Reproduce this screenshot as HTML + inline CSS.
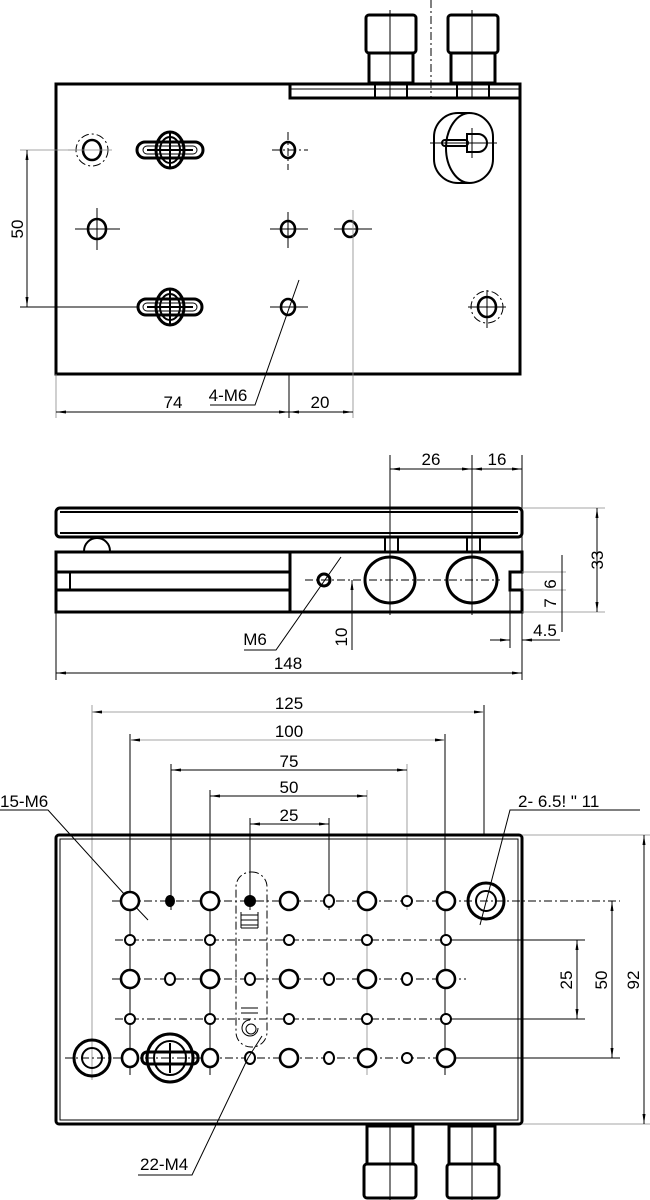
<!DOCTYPE html>
<html><head><meta charset="utf-8"><style>
html,body{margin:0;padding:0;background:#fff}
svg{display:block}
text{font-family:"Liberation Sans Narrow","Liberation Sans",sans-serif;font-size:17px;fill:#000}
.t{stroke:#000;stroke-width:1;fill:none}
.g{stroke:#888;stroke-width:0.8;fill:none}
.k{stroke:#000;stroke-width:3;fill:none}
.m{stroke:#000;stroke-width:2;fill:none}
.d{stroke:#000;stroke-width:1;fill:none;stroke-dasharray:8 3 2 3}
.big{stroke:#000;stroke-width:2.6;fill:#fff}
.sm{stroke:#000;stroke-width:2;fill:#fff}
</style></head><body>
<svg width="650" height="1200" viewBox="0 0 650 1200" xmlns="http://www.w3.org/2000/svg">
<defs>
<marker id="a" markerWidth="10" markerHeight="6" refX="10" refY="3" orient="auto-start-reverse" markerUnits="userSpaceOnUse"><path d="M0,1.5 L10,3 L0,4.5z" fill="#000"/></marker>
</defs>

<!-- ===== TOP VIEW ===== -->
<line class="d" x1="431" y1="0" x2="431" y2="98"/>
<!-- fittings -->
<rect class="k" x="366" y="15" width="50" height="38" rx="3"/>
<rect class="k" x="369" y="53" width="44" height="30"/>
<rect class="m" x="375" y="84" width="32" height="14"/>
<line class="t" x1="390" y1="10" x2="390" y2="98"/>
<rect class="k" x="448" y="15" width="50" height="38" rx="3"/>
<rect class="k" x="451" y="53" width="44" height="30"/>
<rect class="m" x="457" y="84" width="32" height="14"/>
<line class="t" x1="472" y1="10" x2="472" y2="98"/>
<!-- body -->
<path class="k" d="M56,84 H520 V374 H56 Z"/>
<path class="k" d="M290,84 V98 H520"/>
<line class="t" x1="290" y1="89" x2="520" y2="89"/>
<!-- oval at top right -->
<rect class="m" x="434" y="113" width="59" height="70" rx="24"/>
<path class="m" d="M470,113 A24,35 0 0 0 470,183"/>
<rect class="m" x="442" y="140" width="26" height="6" rx="3"/>
<path class="m" d="M467,134 H478 A9,9 0 0 1 478,152 H467 Z" fill="#fff"/>
<line class="t" x1="430" y1="143" x2="497" y2="143"/>
<line class="t" x1="472" y1="128" x2="472" y2="158"/>
<!-- holes row1 -->
<ellipse class="d" cx="92" cy="150" rx="16" ry="16"/>
<ellipse class="big" cx="92" cy="150" rx="9" ry="10"/>
<line class="g" x1="68" y1="150" x2="112" y2="150"/>
<ellipse class="big" cx="288" cy="150" rx="7" ry="8"/>
<line class="d" x1="272" y1="150" x2="308" y2="150"/>
<line class="d" x1="288" y1="132" x2="288" y2="170"/>
<!-- slot 1 -->
<ellipse class="k" cx="170" cy="150" rx="14" ry="18"/>
<rect class="k" x="137" y="142" width="66" height="16" rx="8" fill="#fff"/>
<rect class="t" x="143" y="146" width="54" height="8" rx="4"/>
<ellipse class="m" cx="170" cy="150" rx="10" ry="13"/>
<line class="m" x1="170" y1="133" x2="170" y2="167"/>
<line class="m" x1="147" y1="150" x2="193" y2="150"/>
<!-- row2 -->
<ellipse class="big" cx="97" cy="229" rx="9" ry="10"/>
<line class="t" x1="75" y1="229" x2="120" y2="229"/><line class="t" x1="97" y1="208" x2="97" y2="250"/>
<ellipse class="big" cx="288" cy="229" rx="7" ry="8"/>
<line class="t" x1="270" y1="229" x2="308" y2="229"/><line class="t" x1="288" y1="212" x2="288" y2="248"/>
<ellipse class="big" cx="350" cy="229" rx="7" ry="8"/>
<line class="t" x1="334" y1="229" x2="372" y2="229"/>
<line class="g" x1="353" y1="210" x2="353" y2="418"/>
<!-- row3 -->
<ellipse class="k" cx="170" cy="307" rx="14" ry="18"/>
<rect class="k" x="138" y="299" width="64" height="16" rx="8" fill="#fff"/>
<rect class="t" x="143" y="303" width="54" height="8" rx="4"/>
<ellipse class="m" cx="170" cy="307" rx="10" ry="13"/>
<line class="m" x1="170" y1="290" x2="170" y2="324"/>
<line class="m" x1="147" y1="307" x2="193" y2="307"/>
<ellipse class="big" cx="288" cy="307" rx="7" ry="8"/>
<line class="t" x1="270" y1="307" x2="308" y2="307"/>
<ellipse class="d" cx="487" cy="307" rx="16" ry="16"/>
<ellipse class="big" cx="487" cy="307" rx="9" ry="10"/>
<line class="t" x1="468" y1="307" x2="506" y2="307"/><line class="t" x1="487" y1="290" x2="487" y2="328"/>
<!-- dims top -->
<line class="g" x1="20" y1="150" x2="75" y2="150"/>
<line class="t" x1="20" y1="307" x2="138" y2="307"/>
<line class="t" x1="27" y1="150" x2="27" y2="307" marker-start="url(#a)" marker-end="url(#a)"/>
<text transform="translate(23,229) rotate(-90)" text-anchor="middle">50</text>
<line class="g" x1="56" y1="374" x2="56" y2="418"/>
<line class="t" x1="289" y1="374" x2="289" y2="418"/>
<line class="t" x1="56" y1="412" x2="289" y2="412" marker-start="url(#a)" marker-end="url(#a)"/>
<line class="t" x1="289" y1="412" x2="353" y2="412" marker-start="url(#a)" marker-end="url(#a)"/>
<text x="173" y="408" text-anchor="middle">74</text>
<text x="320" y="408" text-anchor="middle">20</text>
<path class="t" d="M299,280 L255,405 H210"/>
<text x="228" y="401" text-anchor="middle">4-M6</text>

<!-- ===== SIDE VIEW ===== -->
<line class="t" x1="390" y1="455" x2="390" y2="615"/>
<line class="t" x1="472" y1="455" x2="472" y2="615"/>
<line class="t" x1="522" y1="455" x2="522" y2="680"/>
<line class="t" x1="390" y1="469" x2="472" y2="469" marker-start="url(#a)" marker-end="url(#a)"/>
<line class="t" x1="472" y1="469" x2="522" y2="469" marker-start="url(#a)" marker-end="url(#a)"/>
<text x="431" y="465" text-anchor="middle">26</text>
<text x="497" y="465" text-anchor="middle">16</text>
<rect class="k" x="56" y="508" width="466" height="29" rx="4"/>
<line class="m" x1="60" y1="512" x2="518" y2="512"/>
<line class="m" x1="60" y1="533" x2="518" y2="533"/>
<path class="m" d="M84,551 A13,13 0 0 1 110,551"/>
<rect class="m" x="385" y="537" width="13" height="15"/>
<rect class="m" x="467" y="537" width="13" height="15"/>
<path class="k" d="M56,552 H522 V572 H510 V590 H522 V612 H56 Z"/>
<line class="k" x1="56" y1="572" x2="290" y2="572"/>
<line class="k" x1="56" y1="590" x2="290" y2="590"/>
<line class="m" x1="70" y1="572" x2="70" y2="590"/>
<line class="k" x1="290" y1="552" x2="290" y2="612"/>
<line class="d" x1="305" y1="580" x2="500" y2="580"/>
<circle class="k" cx="324" cy="580" r="6"/>
<ellipse class="k" cx="390" cy="580" rx="25" ry="23"/>
<ellipse class="k" cx="472" cy="580" rx="25" ry="23"/>
<line class="d" x1="390" y1="555" x2="390" y2="615"/>
<line class="d" x1="472" y1="555" x2="472" y2="615"/>
<line class="g" x1="522" y1="508" x2="605" y2="508"/>
<line class="g" x1="522" y1="612" x2="605" y2="612"/>
<line class="t" x1="597" y1="508" x2="597" y2="612" marker-start="url(#a)" marker-end="url(#a)"/>
<text transform="translate(603,560) rotate(-90)" text-anchor="middle">33</text>
<line class="g" x1="522" y1="572" x2="566" y2="572"/>
<line class="g" x1="522" y1="590" x2="566" y2="590"/>
<line class="t" x1="562" y1="555" x2="562" y2="632"/>
<text transform="translate(556,584) rotate(-90)" text-anchor="middle">6</text>
<text transform="translate(556,603) rotate(-90)" text-anchor="middle">7</text>
<line class="t" x1="510" y1="590" x2="510" y2="648"/>
<line class="t" x1="490" y1="640" x2="510" y2="640" marker-end="url(#a)"/>
<line class="t" x1="560" y1="640" x2="522" y2="640" marker-end="url(#a)"/>
<text x="545" y="636" text-anchor="middle">4.5</text>
<line class="t" x1="352" y1="580" x2="352" y2="650"/>
<line class="t" x1="352" y1="600" x2="352" y2="580" marker-end="url(#a)"/>
<text transform="translate(347,637) rotate(-90)" text-anchor="middle">10</text>
<path class="t" d="M341,557 L276,650 H244"/>
<text x="255" y="645" text-anchor="middle">M6</text>
<line class="t" x1="56" y1="612" x2="56" y2="680"/>
<line class="t" x1="56" y1="673" x2="522" y2="673" marker-start="url(#a)" marker-end="url(#a)"/>
<text x="288" y="669" text-anchor="middle">148</text>

<!-- ===== BOTTOM VIEW ===== -->
<!-- extension lines -->
<line class="g" x1="92" y1="705" x2="92" y2="1080"/>
<line class="t" x1="484" y1="705" x2="484" y2="835"/>
<line class="t" x1="130" y1="734" x2="130" y2="1075"/>
<line class="t" x1="445" y1="734" x2="445" y2="1075"/>
<line class="t" x1="171" y1="764" x2="171" y2="910"/>
<line class="g" x1="407" y1="764" x2="407" y2="910"/>
<line class="t" x1="210" y1="790" x2="210" y2="1075"/>
<line class="g" x1="367" y1="790" x2="367" y2="1075"/>
<line class="t" x1="250" y1="818" x2="250" y2="910"/>
<line class="t" x1="329" y1="818" x2="329" y2="910"/>
<line class="g" x1="92" y1="712" x2="484" y2="712" marker-start="url(#a)" marker-end="url(#a)"/>
<line class="g" x1="130" y1="740" x2="445" y2="740" marker-start="url(#a)" marker-end="url(#a)"/>
<line class="t" x1="171" y1="770" x2="407" y2="770" marker-start="url(#a)" marker-end="url(#a)"/>
<line class="t" x1="210" y1="796" x2="367" y2="796" marker-start="url(#a)" marker-end="url(#a)"/>
<line class="t" x1="250" y1="824" x2="329" y2="824" marker-start="url(#a)" marker-end="url(#a)"/>
<text x="289" y="709" text-anchor="middle">125</text>
<text x="289" y="737" text-anchor="middle">100</text>
<text x="289" y="767" text-anchor="middle">75</text>
<text x="289" y="793" text-anchor="middle">50</text>
<text x="289" y="821" text-anchor="middle">25</text>
<text x="0" y="807">15-M6</text>
<path class="t" d="M0,810 H48 L125,895"/>
<line class="t" x1="130" y1="901" x2="148" y2="920" marker-start="url(#a)"/>
<text x="518" y="807">2-  6.5!  "    11</text>
<path class="t" d="M640,810 H510 L480,925"/>
<!-- plate -->
<rect class="k" x="56" y="835" width="466" height="289" rx="3"/>
<rect class="t" x="60" y="839" width="458" height="281"/>
<!-- fittings bottom -->
<rect class="k" x="367" y="1126" width="46" height="38"/>
<rect class="k" x="364" y="1164" width="52" height="34" rx="3"/>
<line class="t" x1="390" y1="1126" x2="390" y2="1200"/>
<rect class="k" x="449" y="1126" width="46" height="38"/>
<rect class="k" x="447" y="1164" width="52" height="34" rx="3"/>
<line class="t" x1="472" y1="1126" x2="472" y2="1200"/>
<!-- center lines rows -->
<line class="d" x1="112" y1="901" x2="620" y2="901"/>
<line class="d" x1="115" y1="940" x2="460" y2="940"/>
<line class="d" x1="112" y1="979" x2="466" y2="979"/>
<line class="d" x1="115" y1="1019" x2="460" y2="1019"/>
<line class="d" x1="65" y1="1058" x2="460" y2="1058"/>
<line class="t" x1="445" y1="940" x2="585" y2="940"/>
<line class="t" x1="445" y1="1019" x2="585" y2="1019"/>
<line class="t" x1="445" y1="1058" x2="620" y2="1058"/>
<line class="g" x1="522" y1="835" x2="650" y2="835"/>
<line class="g" x1="522" y1="1124" x2="650" y2="1124"/>
<line class="t" x1="577" y1="940" x2="577" y2="1019" marker-start="url(#a)" marker-end="url(#a)"/>
<line class="t" x1="612" y1="901" x2="612" y2="1058" marker-start="url(#a)" marker-end="url(#a)"/>
<line class="t" x1="644" y1="835" x2="644" y2="1124" marker-start="url(#a)" marker-end="url(#a)"/>
<text transform="translate(572,980) rotate(-90)" text-anchor="middle">25</text>
<text transform="translate(607,980) rotate(-90)" text-anchor="middle">50</text>
<text transform="translate(639,980) rotate(-90)" text-anchor="middle">92</text>
<!-- slot dashed -->
<rect class="d" x="236" y="872" width="31" height="175" rx="15"/>
<!-- row1 -->
<ellipse class="big" cx="130" cy="901" rx="9" ry="9"/>
<ellipse cx="170" cy="901" rx="5" ry="6" fill="#000"/>
<ellipse class="big" cx="210" cy="901" rx="9" ry="9"/>
<ellipse cx="250" cy="901" rx="6" ry="6" fill="#000"/>
<ellipse class="big" cx="289" cy="901" rx="9" ry="9"/>
<ellipse class="sm" cx="329" cy="901" rx="5" ry="6"/>
<ellipse class="big" cx="367" cy="901" rx="9" ry="9"/>
<ellipse class="sm" cx="407" cy="901" rx="5" ry="5"/>
<ellipse class="big" cx="446" cy="901" rx="9" ry="9"/>
<ellipse class="k" cx="486" cy="901" rx="18" ry="18"/>
<ellipse class="m" cx="486" cy="901" rx="10" ry="10"/>
<!-- springs -->
<path class="t" d="M241,915 H258 M241,920 H258 M241,925 H258 M241,928 H258 M258,912 V928 M241,912 V928"/>
<path class="t" d="M241,1008 H258 M241,1013 H258 M250,1020 A8,8 0 1 0 258,1028"/>
<circle class="t" cx="251" cy="1029" r="5"/>
<!-- rows 2 & 4 -->
<g>
<circle class="sm" cx="130" cy="940" r="5"/><circle class="sm" cx="210" cy="940" r="5"/><circle class="sm" cx="289" cy="940" r="5"/><circle class="sm" cx="367" cy="940" r="5"/><circle class="sm" cx="446" cy="940" r="5"/>
<circle class="sm" cx="130" cy="1019" r="5"/><circle class="sm" cx="210" cy="1019" r="5"/><circle class="sm" cx="289" cy="1019" r="5"/><circle class="sm" cx="367" cy="1019" r="5"/><circle class="sm" cx="446" cy="1019" r="5"/>
</g>
<!-- row3 -->
<ellipse class="big" cx="130" cy="979" rx="9" ry="9"/>
<ellipse class="sm" cx="170" cy="979" rx="5" ry="6"/>
<ellipse class="big" cx="210" cy="979" rx="9" ry="9"/>
<ellipse class="sm" cx="250" cy="979" rx="5" ry="6"/>
<ellipse class="big" cx="289" cy="979" rx="9" ry="9"/>
<ellipse class="sm" cx="329" cy="979" rx="5" ry="6"/>
<ellipse class="big" cx="367" cy="979" rx="9" ry="9"/>
<ellipse class="sm" cx="407" cy="979" rx="5" ry="6"/>
<ellipse class="big" cx="446" cy="979" rx="9" ry="9"/>
<!-- row5 -->
<ellipse class="k" cx="92" cy="1058" rx="18" ry="18"/>
<ellipse class="m" cx="92" cy="1058" rx="10" ry="10"/>
<ellipse class="big" cx="130" cy="1058" rx="8" ry="9"/>
<ellipse class="k" cx="170" cy="1058" rx="23" ry="24"/>
<ellipse class="m" cx="170" cy="1058" rx="16" ry="17"/>
<rect class="k" x="142" y="1052" width="56" height="12" rx="5" fill="#fff"/>
<line class="m" x1="170" y1="1043" x2="170" y2="1073"/>
<ellipse class="big" cx="210" cy="1058" rx="8" ry="9"/>
<ellipse class="sm" cx="250" cy="1058" rx="5" ry="6"/>
<ellipse class="big" cx="289" cy="1058" rx="9" ry="9"/>
<ellipse class="sm" cx="329" cy="1058" rx="5" ry="6"/>
<ellipse class="big" cx="367" cy="1058" rx="9" ry="9"/>
<ellipse class="sm" cx="407" cy="1058" rx="5" ry="5"/>
<ellipse class="big" cx="446" cy="1058" rx="9" ry="9"/>
<path class="t" d="M262,1036 L248,1058 M248,1058 L192,1175 H138"/>
<text x="140" y="1170">22-M4</text>
</svg>
</body></html>
